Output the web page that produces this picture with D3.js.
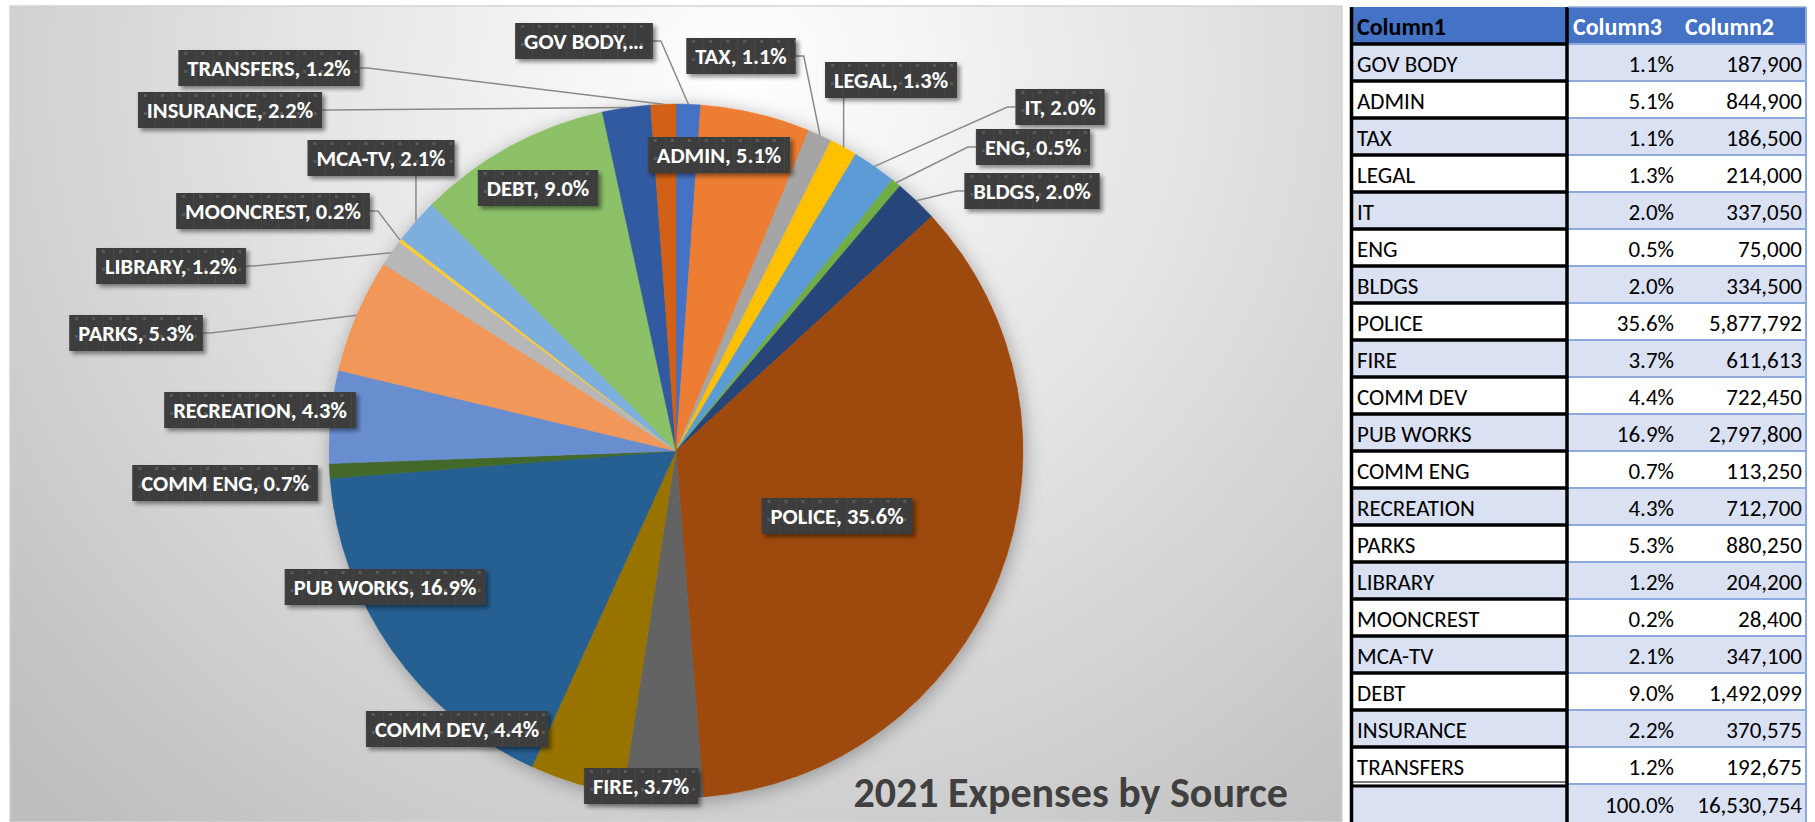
<!DOCTYPE html>
<html>
<head>
<meta charset="utf-8">
<script src="https://cdn.jsdelivr.net/npm/d3@7/dist/d3.min.js"></script>
<style>
  body { margin: 0; background: #fff; }
  svg { display: block; }
</style>
</head>
<body>
<div id="container"></div>
<script>
// DATA
const categories = ['GOV BODY', 'ADMIN', 'TAX', 'LEGAL', 'IT', 'ENG', 'BLDGS', 'POLICE', 'FIRE', 'COMM DEV',
  'PUB WORKS', 'COMM ENG', 'RECREATION', 'PARKS', 'LIBRARY', 'MOONCREST', 'MCA-TV', 'DEBT', 'INSURANCE', 'TRANSFERS']
const amounts = [187900, 844900, 186500, 214000, 337050, 75000, 334500, 5877792, 611613, 722450,
  2797800, 113250, 712700, 880250, 204200, 28400, 347100, 1492099, 370575, 192675]
const headers = ['Column1', 'Column3', 'Column2']
const title = '2021 Expenses by Source'

// office palette, one per slice
const sliceColors = ['#4472C4', '#ED7D31', '#A5A5A5', '#FFC000', '#5B9BD5', '#70AD47', '#264478', '#9E480E', '#636363', '#997300',
  '#255E91', '#43682B', '#698ED0', '#F1975A', '#B7B7B7', '#FFCD33', '#7CAFDD', '#8CC168', '#335AA1', '#D26012']

// label layout: where each data label box sits (center) and whether it has a leader line
const labelCenters = [[584, 41], [719, 155], [741, 56], [891, 80], [1060, 107], [1033, 147], [1032, 191], [837, 516], [641, 786], [457, 729],
  [385, 587], [225, 483], [260, 410], [136, 333], [171, 266], [273, 211], [381, 158], [538, 188], [230, 110], [269, 68]]
const hasLeader = [true, false, true, true, true, true, true, false, false, false,
  false, false, false, true, true, true, true, false, true, true]

const W = 1815
const H = 822
const font = 'Carlito, Calibri, Lato, sans-serif'

const data = categories.map((c, i) => ({ name: c, value: amounts[i], color: sliceColors[i], i }))
const total = d3.sum(amounts)
const fmtPct = d3.format('.1%')
const fmtNum = d3.format(',')

const svg = d3.select('#container')
  .append('svg')
  .attr('width', W)
  .attr('height', H)

const defs = svg.append('defs')

// background gradient of the chart area
const bg = defs.append('radialGradient')
  .attr('id', 'bg')
  .attr('gradientUnits', 'userSpaceOnUse')
  .attr('cx', 740).attr('cy', 70).attr('r', 1000)
bg.append('stop').attr('offset', 0).attr('stop-color', '#ffffff')
bg.append('stop').attr('offset', 0.45).attr('stop-color', '#e4e4e4')
bg.append('stop').attr('offset', 1).attr('stop-color', '#bebebe')

// texture for label boxes
const tex = defs.append('pattern')
  .attr('id', 'tex')
  .attr('patternUnits', 'userSpaceOnUse')
  .attr('width', 17).attr('height', 18)
tex.append('rect').attr('width', 17).attr('height', 18).attr('fill', '#3c3c3c')
tex.append('rect').attr('x', 0).attr('width', 1).attr('height', 18).attr('fill', '#474747')
tex.append('rect').attr('x', 6).attr('y', 2).attr('width', 3).attr('height', 3).attr('fill', '#5a5a5a')

const pieShadow = defs.append('filter').attr('id', 'pieShadow')
  .attr('x', '-20%').attr('y', '-20%').attr('width', '140%').attr('height', '140%')
pieShadow.append('feDropShadow')
  .attr('dx', 2).attr('dy', 3).attr('stdDeviation', 9)
  .attr('flood-color', '#000').attr('flood-opacity', 0.3)

const boxShadow = defs.append('filter').attr('id', 'boxShadow')
  .attr('x', '-10%').attr('y', '-20%').attr('width', '130%').attr('height', '150%')
boxShadow.append('feDropShadow')
  .attr('dx', 3).attr('dy', 3).attr('stdDeviation', 2)
  .attr('flood-color', '#000').attr('flood-opacity', 0.45)

//CHART AREA
svg.append('rect')
  .attr('x', 10).attr('y', 6)
  .attr('width', 1332).attr('height', H - 6)
  .attr('fill', 'url(#bg)')
  .attr('stroke', '#d4d4d4')
  .attr('stroke-width', 1.5)

//PIE
const cx = 676
const cy = 451
const r = 347

const pie = d3.pie()
  .sort(null)
  .value(d => d.value)
  .startAngle(0)
  .endAngle(2 * Math.PI)

const arc = d3.arc()
  .innerRadius(0)
  .outerRadius(r)

const arcs = pie(data)

const pieG = svg.append('g')
  .attr('transform', `translate(${cx},${cy})`)

pieG.append('g')
  .attr('filter', 'url(#pieShadow)')
  .selectAll('path')
  .data(arcs)
  .enter()
  .append('path')
  .attr('d', arc)
  .attr('fill', d => d.data.color)
  .attr('stroke', d => d.data.color)
  .attr('stroke-width', 0.5)

//LABELS
const labelText = d => d.data.name === 'GOV BODY'
  ? 'GOV BODY,\u2026'
  : d.data.name + ', ' + fmtPct(d.data.value / total)

const labels = svg.append('g')
const boxH = 36
const padX = 9

arcs.forEach((d, i) => {
  const [lx, ly] = labelCenters[i]
  const g = labels.append('g')
  const t = g.append('text')
    .attr('font-family', font)
    .attr('font-weight', 700)
    .attr('font-size', 22.5)
    .attr('fill', '#fff')
    .attr('text-anchor', 'middle')
    .text(labelText(d))
  const tw = t.node().getComputedTextLength()
  const bw = tw + padX * 2
  const x0 = lx - bw / 2
  const y0 = ly - boxH / 2

  //leader line from box to the slice's outer edge
  if (hasLeader[i]) {
    const a = (d.startAngle + d.endAngle) / 2
    const px = cx + r * Math.sin(a)
    const py = cy - r * Math.cos(a)
    let pts
    if (px > x0 + bw) {
      pts = [[x0 + bw, ly], [x0 + bw + 8, ly], [px, py]]
    } else if (px < x0) {
      pts = [[x0, ly], [x0 - 8, ly], [px, py]]
    } else if (py > y0 + boxH) {
      pts = [[px, y0 + boxH], [px, py]]
    } else {
      pts = [[px, y0], [px, py]]
    }
    labels.insert('path', ':first-child')
      .attr('d', d3.line()(pts))
      .attr('fill', 'none')
      .attr('stroke', '#8a8a8a')
      .attr('stroke-width', 1.5)
  }

  g.insert('rect', 'text')
    .attr('x', 0).attr('y', 0)
    .attr('width', bw).attr('height', boxH)
    .attr('fill', 'url(#tex)')
    .attr('filter', 'url(#boxShadow)')
  g.attr('transform', `translate(${x0},${y0})`)
  t.attr('x', bw / 2).attr('y', boxH / 2 + 8)
})

//TITLE
svg.append('text')
  .attr('x', 1288)
  .attr('y', 807)
  .attr('text-anchor', 'end')
  .attr('font-family', font)
  .attr('font-weight', 700)
  .attr('font-size', 42)
  .attr('fill', '#404040')
  .text(title)

//TABLE
const tbl = svg.append('g')
const tLeft = 1353
const c1Right = 1566
const c3Left = 1568
const c3Right = 1674
const c2Right = 1802
const tRight = 1806
const headTop = 7
const rowTop = 44
const rowH = 37
const lightBlue = '#D9E1F2'
const lineBlue = '#8EA9DB'

tbl.append('rect')
  .attr('x', tLeft).attr('y', headTop)
  .attr('width', tRight - tLeft).attr('height', rowTop - headTop)
  .attr('fill', '#4472C4')

const rows = tbl.selectAll('g.row')
  .data(data)
  .enter()
  .append('g')
  .attr('class', 'row')
  .attr('transform', (d, i) => `translate(0,${rowTop + i * rowH})`)

rows.append('rect')
  .attr('x', tLeft).attr('y', 0)
  .attr('width', tRight - tLeft).attr('height', rowH)
  .attr('fill', (d, i) => i % 2 === 0 ? lightBlue : '#fff')

// total row
const totalTop = rowTop + data.length * rowH
tbl.append('rect')
  .attr('x', tLeft).attr('y', totalTop)
  .attr('width', tRight - tLeft).attr('height', H - totalTop)
  .attr('fill', lightBlue)

// horizontal rules
d3.range(data.length).forEach(i => {
  const y = rowTop + i * rowH
  tbl.append('line')
    .attr('x1', c3Left).attr('x2', tRight)
    .attr('y1', y).attr('y2', y)
    .attr('stroke', lineBlue).attr('stroke-width', 2)
  tbl.append('line')
    .attr('x1', tLeft - 3).attr('x2', c3Left)
    .attr('y1', y).attr('y2', y)
    .attr('stroke', '#000').attr('stroke-width', 3.5)
})
tbl.append('line')
  .attr('x1', c3Left).attr('x2', tRight)
  .attr('y1', totalTop).attr('y2', totalTop)
  .attr('stroke', lineBlue).attr('stroke-width', 2)
tbl.append('line')
  .attr('x1', tLeft - 3).attr('x2', c3Left)
  .attr('y1', totalTop - 2).attr('y2', totalTop - 2)
  .attr('stroke', '#000').attr('stroke-width', 1.2)
tbl.append('line')
  .attr('x1', tLeft - 3).attr('x2', c3Left)
  .attr('y1', totalTop + 2).attr('y2', totalTop + 2)
  .attr('stroke', '#000').attr('stroke-width', 3)

// vertical rules
tbl.append('line')
  .attr('x1', tLeft - 1.5).attr('x2', tLeft - 1.5)
  .attr('y1', headTop).attr('y2', H)
  .attr('stroke', '#000').attr('stroke-width', 3.5)
tbl.append('line')
  .attr('x1', c1Right + 1).attr('x2', c1Right + 1)
  .attr('y1', headTop).attr('y2', H)
  .attr('stroke', '#000').attr('stroke-width', 3.5)
tbl.append('line')
  .attr('x1', tRight).attr('x2', tRight)
  .attr('y1', headTop).attr('y2', H)
  .attr('stroke', lineBlue).attr('stroke-width', 2)
tbl.append('line')
  .attr('x1', c3Left).attr('x2', tRight)
  .attr('y1', headTop).attr('y2', headTop)
  .attr('stroke', lineBlue).attr('stroke-width', 1.5)

// header text
const headX = [tLeft + 4, c3Left + 5, 1685]
headers.forEach((h, i) => {
  tbl.append('text')
    .attr('x', headX[i]).attr('y', 35)
    .attr('font-family', font)
    .attr('font-weight', 700)
    .attr('font-size', 24)
    .attr('fill', i === 0 ? '#000' : '#fff')
    .text(h)
})

// cell text
const cellFont = sel => sel
  .attr('font-family', font)
  .attr('font-size', 23)
  .attr('fill', '#000')

rows.append('text')
  .call(cellFont)
  .attr('x', tLeft + 4).attr('y', 28)
  .text(d => d.name)

rows.append('text')
  .call(cellFont)
  .attr('x', c3Right).attr('y', 28)
  .attr('text-anchor', 'end')
  .text(d => fmtPct(d.value / total))

rows.append('text')
  .call(cellFont)
  .attr('x', c2Right).attr('y', 28)
  .attr('text-anchor', 'end')
  .text(d => fmtNum(d.value))

tbl.append('text')
  .call(cellFont)
  .attr('x', c3Right).attr('y', totalTop + 29)
  .attr('text-anchor', 'end')
  .text(fmtPct(1))

tbl.append('text')
  .call(cellFont)
  .attr('x', c2Right).attr('y', totalTop + 29)
  .attr('text-anchor', 'end')
  .text(fmtNum(total))
</script>
</body>
</html>
